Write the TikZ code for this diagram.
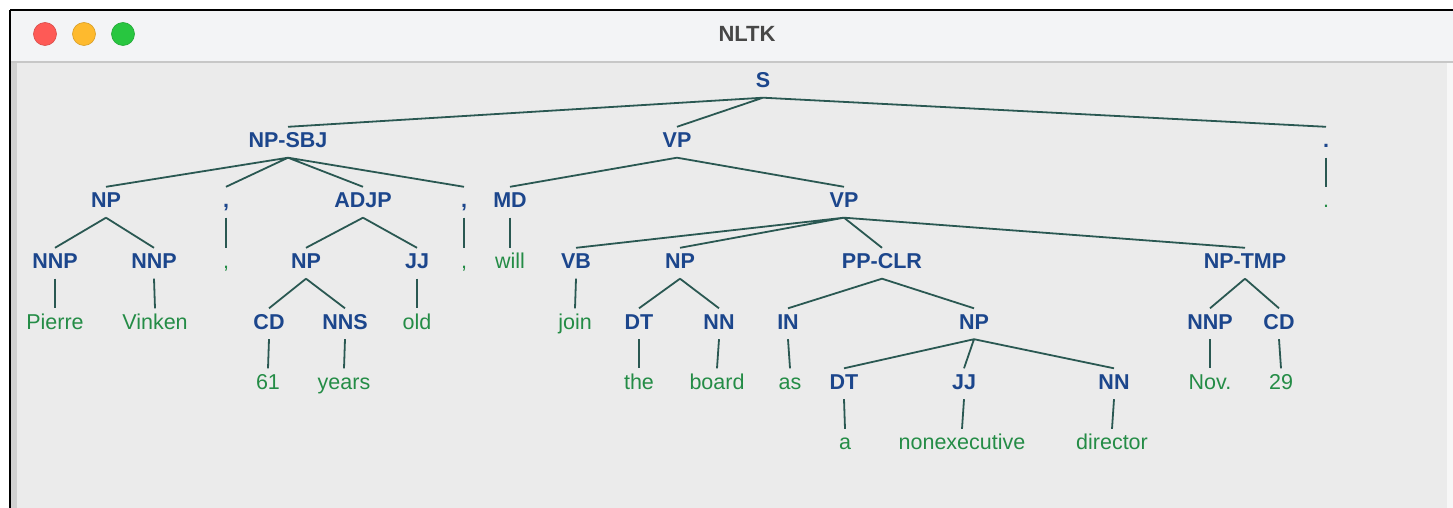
\documentclass[tikz,border=0pt]{standalone}
\usepackage{fontspec}
\setmainfont{Liberation Sans}
\usepackage{tikz}
\usepackage{xcolor}
\definecolor{catblue}{RGB}{28,70,140}
\definecolor{leafgreen}{RGB}{36,140,70}
\definecolor{branchcol}{RGB}{42,88,82}
\definecolor{barbg}{RGB}{243,244,246}
\definecolor{panebg}{RGB}{235,235,235}
\definecolor{lampred}{RGB}{254,90,86}
\definecolor{lampyel}{RGB}{254,186,46}
\definecolor{lampgrn}{RGB}{40,198,64}
\tikzset{
  cat/.style   ={font=\fontsize{21.5}{24}\selectfont\bfseries, text=catblue,
                 anchor=base, inner xsep=2pt, inner ysep=3pt,
                 text height=17.5pt, text depth=7pt},
  leaf/.style  ={cat, font=\fontsize{21.5}{24}\selectfont, text=leafgreen},
  branch/.style={draw=branchcol, line width=1.8pt},
  ttl/.style   ={font=\fontsize{22}{24}\selectfont\bfseries, text=black!72},
  light/.style ={line width=0.6pt},
}
\begin{document}
\begin{tikzpicture}[x=1pt,y=-1pt]
  \useasboundingbox (0,0) rectangle (1453,508);
  % window frame
  \fill[white] (0,0) rectangle (1453,508);
  \fill[barbg] (10,10) rectangle (1453,62);
  \fill[panebg] (10,62) rectangle (1447,508);
  \fill[black!18] (11,62) rectangle (17,508);
  \fill[black!3] (1447,62) rectangle (1453,508);
  \draw[black!22, line width=1.5pt] (10,62) -- (1453,62);
  \draw[black, line width=1.6pt] (10,10) -- (1453,10);
  \draw[black, line width=1.6pt] (10,10) -- (10,508);
  \fill[lampred, draw=lampred!85!black, light] (45,34) circle (11.5);
  \fill[lampyel, draw=lampyel!85!black, light] (84,34) circle (11.5);
  \fill[lampgrn, draw=lampgrn!85!black, light] (123,34) circle (11.5);
  \node[ttl] (title) at (747,34) {NLTK};

  % categories
  \node[cat] (s) at (763,87.5) {S};
  \node[cat] (npsbj) at (288,147.5) {NP-SBJ};
  \node[cat] (vpa) at (677,147.5) {VP};
  \node[cat] (dotc) at (1326,147.5) {.};
  \node[cat] (npa) at (106,207.5) {NP};
  \node[cat] (comma1) at (226,207.5) {,};
  \node[cat] (adjp) at (363,207.5) {ADJP};
  \node[cat] (comma2) at (464,207.5) {,};
  \node[cat] (md) at (510,207.5) {MD};
  \node[cat] (vpb) at (844,207.5) {VP};
  \node[cat] (nnpa) at (55,268.5) {NNP};
  \node[cat] (nnpb) at (154,268.5) {NNP};
  \node[cat] (npb) at (306,268.5) {NP};
  \node[cat] (jja) at (417,268.5) {JJ};
  \node[cat] (vb) at (576,268.5) {VB};
  \node[cat] (npc) at (680,268.5) {NP};
  \node[cat] (ppclr) at (882,268.5) {PP-CLR};
  \node[cat] (nptmp) at (1245,268.5) {NP-TMP};
  \node[cat] (cda) at (269,329) {CD};
  \node[cat] (nns) at (345,329) {NNS};
  \node[cat] (dta) at (639,329) {DT};
  \node[cat] (nna) at (719,329) {NN};
  \node[cat] (in) at (788,329) {IN};
  \node[cat] (npd) at (974,329) {NP};
  \node[cat] (nnpc) at (1210,329) {NNP};
  \node[cat] (cdb) at (1279,329) {CD};
  \node[cat] (dtb) at (844,389) {DT};
  \node[cat] (jjb) at (964,389) {JJ};
  \node[cat] (nnb) at (1114,389) {NN};

  % words
  \node[leaf] (wdot) at (1326,207.5) {.};
  \node[leaf] (wcomma1) at (226,268.5) {,};
  \node[leaf] (wcomma2) at (464,268.5) {,};
  \node[leaf] (will) at (510,268.5) {will};
  \node[leaf] (pierre) at (55,329) {Pierre};
  \node[leaf] (vinken) at (155,329) {Vinken};
  \node[leaf] (old) at (417,329) {old};
  \node[leaf] (join) at (575,329) {join};
  \node[leaf] (w61) at (268,389) {61};
  \node[leaf] (years) at (344,389) {years};
  \node[leaf] (the) at (639,389) {the};
  \node[leaf] (board) at (717,389) {board};
  \node[leaf] (as) at (790,389) {as};
  \node[leaf] (nov) at (1210,389) {Nov.};
  \node[leaf] (w29) at (1281,389) {29};
  \node[leaf] (a) at (845,449.5) {a};
  \node[leaf] (nonexec) at (962,449.5) {nonexecutive};
  \node[leaf] (director) at (1112,449.5) {director};

  % branches
  \draw[branch] (s.south) -- (npsbj.north) (s.south) -- (vpa.north)
    (s.south) -- (dotc.north);
  \draw[branch] (npsbj.south) -- (npa.north) (npsbj.south) -- (comma1.north)
    (npsbj.south) -- (adjp.north) (npsbj.south) -- (comma2.north);
  \draw[branch] (vpa.south) -- (md.north) (vpa.south) -- (vpb.north);
  \draw[branch] (dotc.south) -- (wdot.north);
  \draw[branch] (npa.south) -- (nnpa.north) (npa.south) -- (nnpb.north);
  \draw[branch] (comma1.south) -- (wcomma1.north);
  \draw[branch] (adjp.south) -- (npb.north) (adjp.south) -- (jja.north);
  \draw[branch] (comma2.south) -- (wcomma2.north);
  \draw[branch] (md.south) -- (will.north);
  \draw[branch] (vpb.south) -- (vb.north) (vpb.south) -- (npc.north)
    (vpb.south) -- (ppclr.north) (vpb.south) -- (nptmp.north);
  \draw[branch] (nnpa.south) -- (pierre.north);
  \draw[branch] (nnpb.south) -- (vinken.north);
  \draw[branch] (npb.south) -- (cda.north) (npb.south) -- (nns.north);
  \draw[branch] (jja.south) -- (old.north);
  \draw[branch] (vb.south) -- (join.north);
  \draw[branch] (npc.south) -- (dta.north) (npc.south) -- (nna.north);
  \draw[branch] (ppclr.south) -- (in.north) (ppclr.south) -- (npd.north);
  \draw[branch] (nptmp.south) -- (nnpc.north) (nptmp.south) -- (cdb.north);
  \draw[branch] (cda.south) -- (w61.north);
  \draw[branch] (nns.south) -- (years.north);
  \draw[branch] (dta.south) -- (the.north);
  \draw[branch] (nna.south) -- (board.north);
  \draw[branch] (in.south) -- (as.north);
  \draw[branch] (npd.south) -- (dtb.north) (npd.south) -- (jjb.north)
    (npd.south) -- (nnb.north);
  \draw[branch] (nnpc.south) -- (nov.north);
  \draw[branch] (cdb.south) -- (w29.north);
  \draw[branch] (dtb.south) -- (a.north);
  \draw[branch] (jjb.south) -- (nonexec.north);
  \draw[branch] (nnb.south) -- (director.north);
\end{tikzpicture}
\end{document}
